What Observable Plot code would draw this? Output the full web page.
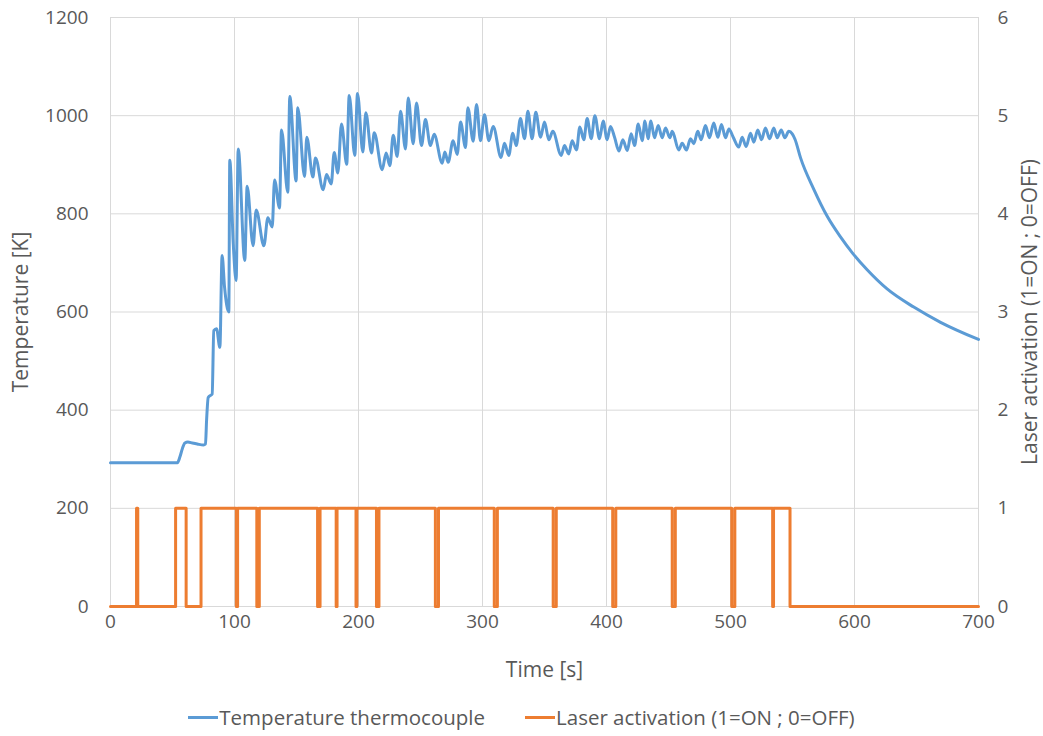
<!DOCTYPE html>
<html>
<head>
<meta charset="utf-8">
<script src="https://cdn.jsdelivr.net/npm/d3@7"></script>
<script src="https://cdn.jsdelivr.net/npm/@observablehq/plot@0.6"></script>
<style>
  html, body { margin: 0; padding: 0; background: #fff; }
  #chart { width: 1043px; }
  .legend { display: flex; justify-content: center; gap: 40px; font-family: "Open Sans", sans-serif; font-size: 20.5px; color: #595959; margin-top: 8px; }
  .legend .item { display: flex; align-items: center; }
  .legend .sw { width: 30px; height: 3px; margin-right: 1px; }
  svg g[aria-label="y-axis label"] text, svg g[aria-label="x-axis label"] text { font-size: 21px; }
</style>
</head>
<body>
<div id="chart"></div>
<script>
// ---- Data ----
const tempTime = [0,54,56,58,60,62.4,66,70,75,76.6,77.5,78.8,82,83.3,85.5,88.2,90,92,95.4,96.2,99,101.3,103,108.3,110.2,115,117.5,123.7,126.9,130.4,132.3,136.3,137.9,143,144.6,149.7,151,156.5,158.3,163.2,165.3,171.5,174.2,178,180.4,183.3,186.3,190.5,192.5,197,199.2,203.5,205.9,210.5,212.7,219.1,222.3,225.3,228,231.2,233.9,237.9,240.1,244.1,246.8,250.8,254,258,261,267.5,269.6,272.3,276.3,279.6,282.3,286.3,288.2,292.5,295.2,298.4,301.6,305.1,308.6,315,317.7,321.2,324.4,327.2,330.6,333.9,336.6,340,343,346.8,350,353.5,356.7,363.5,366.1,369.6,372.3,375.8,378.5,381.7,384.4,387.7,390.6,394.4,397.3,400.5,403.2,406.5,410,413.2,416.7,419.9,422.6,425.6,428.8,431,433.5,435.8,438.7,441.7,444.9,447.6,451.1,453,458.3,461,464.5,467.7,470.4,473.6,476.3,479.8,483,486.5,489.8,492.7,496,498.7,502.2,506.7,509.4,512.6,516.1,518.8,522,525,528.2,531.5,534.9,537.7,540.9,543.8,547,549.8,552,556.5,567.2,578,588.7,598.1,610.2,626.3,647.8,669.4,700];
const tempValue = [293,293,305,322,333,335,333,331,329,331,380,426,433,562,566,528,715,650,600,909,739,664,932,705,856,735,808,735,792,773,869,812,971,844,1039,867,1016,876,956,875,914,849,880,861,925,883,983,901,1041,919,1045,926,1006,924,965,890,924,898,960,917,1009,932,1036,943,1026,939,992,939,962,903,926,905,949,921,987,935,1016,948,1023,949,1002,949,978,915,944,919,964,939,994,953,1009,953,1007,956,987,951,968,919,939,922,949,930,977,951,994,953,1000,953,989,951,978,956,928,951,929,963,939,983,949,989,953,989,955,980,955,975,955,968,930,944,930,953,943,968,951,980,955,985,956,982,955,973,956,936,956,937,964,946,971,951,975,953,975,955,971,955,968,963,952,914,850,795,753,721,686,647,610,579,544];

const laserTime = [0,21,22,52.5,61,73,101.5,102.5,118,120,167,169,182,182.7,198,198.7,214.5,216.5,262,264.5,309.5,312,357,359.5,405,407.5,453,455.5,501,503.5,534,534.7,548,700];
const laserValue = [0,1,0,1,0,1,0,1,0,1,0,1,0,1,0,1,0,1,0,1,0,1,0,1,0,1,0,1,0,1,0,1,0,0];

const xTicks = [0,100,200,300,400,500,600,700];
const yTicks = [0,200,400,600,800,1000,1200];
const yRightTicks = [0,1,2,3,4,5,6];
const laserScale = 200; // right axis 0..6 mapped onto left 0..1200

const temp = tempTime.map((t, i) => ({t, v: tempValue[i]}));
const laser = laserTime.map((t, i) => ({t, v: laserValue[i]}));

const plot = Plot.plot({
  width: 1043,
  height: 695,
  marginLeft: 110,
  marginRight: 65,
  marginTop: 17,
  marginBottom: 89,
  style: { fontFamily: "Open Sans, sans-serif", fontSize: "19px", color: "#595959", background: "#fff" },
  x: { domain: [0, 700] },
  y: { domain: [0, 1200] },
  marks: [
    Plot.gridX(xTicks, { stroke: "#d9d9d9", strokeOpacity: 1, strokeWidth: 1 }),
    Plot.gridY(yTicks, { stroke: "#d9d9d9", strokeOpacity: 1, strokeWidth: 1 }),
    Plot.axisX(xTicks, { tickSize: 0, tickPadding: 8, tickFormat: d => String(d), label: "Time [s]", labelAnchor: "center", labelArrow: "none", labelOffset: 70 }),
    Plot.axisY(yTicks, { anchor: "left", tickSize: 0, tickPadding: 22, tickFormat: d => String(d), label: "Temperature [K]", labelAnchor: "center", labelArrow: "none", labelOffset: 97 }),
    Plot.axisY(yRightTicks.map(d => d * laserScale), { anchor: "right", tickSize: 0, tickPadding: 19, tickFormat: d => String(d / laserScale), label: "Laser activation (1=ON ; 0=OFF)", labelAnchor: "center", labelArrow: "none", labelOffset: 58 }),
    Plot.line(laser, { x: "t", y: d => d.v * laserScale, curve: "step-after", stroke: "#ed7d31", strokeWidth: 3 }),
    Plot.line(temp, { x: "t", y: "v", curve: "monotone-x", stroke: "#5b9bd5", strokeWidth: 3 })
  ]
});
document.getElementById("chart").appendChild(plot);

const legend = document.createElement("div");
legend.className = "legend";
legend.innerHTML = `<div class="item"><span class="sw" style="background:#5b9bd5"></span>Temperature thermocouple</div>
<div class="item"><span class="sw" style="background:#ed7d31"></span>Laser activation (1=ON ; 0=OFF)</div>`;
document.getElementById("chart").appendChild(legend);
</script>
</body>
</html>
